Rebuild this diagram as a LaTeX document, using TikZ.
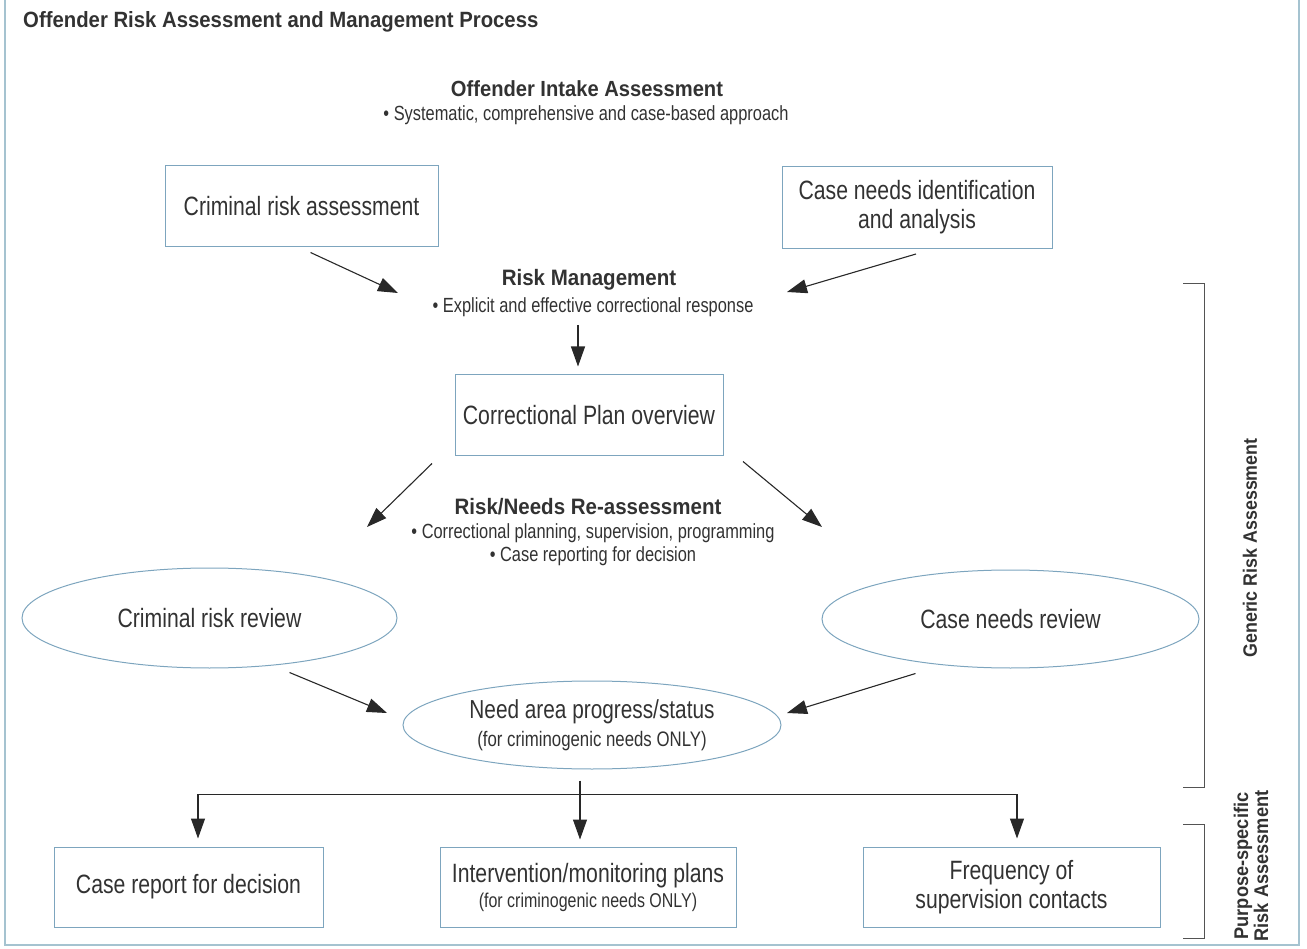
\documentclass[tikz,border=0pt]{standalone}
\usepackage{fontspec}
\setmainfont[FakeStretch=0.8]{Liberation Sans}
\newfontfamily\bcond[FakeStretch=0.92]{Liberation Sans}
\usetikzlibrary{arrows.meta,shapes.geometric,calc}
\definecolor{boxc}{RGB}{125,165,190}
\definecolor{framec}{RGB}{165,195,208}
\definecolor{txt}{RGB}{50,50,50}
\definecolor{linec}{RGB}{40,40,40}
\begin{document}
\begin{tikzpicture}[x=1pt,y=-1pt,
  box/.style={draw=boxc,line width=1pt,inner sep=0pt,align=center,text=txt,font=\fontsize{26.5}{29}\selectfont},
  ell/.style={ellipse,draw=boxc,line width=1pt,inner sep=0pt,align=center,text=txt,font=\fontsize{26.5}{29}\selectfont},
  head/.style={inner sep=0pt,text=txt,font=\bcond\bfseries\fontsize{22.3}{26}\selectfont},
  sub/.style={inner sep=0pt,text=txt,font=\fontsize{20.5}{23}\selectfont},
  arr/.style={draw=linec,line width=1.1pt,-{Triangle[length=20pt,width=14pt]}},
  ln/.style={draw=linec,line width=1pt},
  brk/.style={draw=linec!80,line width=1pt},
  side/.style={inner sep=0pt,text=txt,rotate=90,align=center}]
\useasboundingbox (0,0) rectangle (1307,949);
% frame
\draw[framec,line width=2pt] (4.5,0) -- (4.5,945) -- (1299,945) -- (1299,0);
% title
\node[head,anchor=west,font=\bcond\bfseries\fontsize{22.1}{26}\selectfont] (title) at (23,22) {Offender Risk Assessment and Management Process};
% intake
\node[head,font=\bcond\bfseries\fontsize{21.9}{26}\selectfont] (intake) at (587,89) {Offender Intake Assessment};
\node[sub] (intakesub) at (586,115) {• Systematic, comprehensive and case-based approach};
\node[box,minimum width=273,minimum height=81] (cra) at (301.5,206.5) {Criminal risk assessment};
\node[box,minimum width=270,minimum height=82] (cni) at (917,207.5) {Case needs identification\\and analysis};
% risk management
\node[head] (rm) at (589,280) {Risk Management};
\node[sub] (rmsub) at (593,307) {• Explicit and effective correctional response};
\coordinate (rmL) at (398,293);
\coordinate (rmR) at (787,292);
\draw[arr] ($(cra.south)+(9,5)$) -- (rmL);
\draw[arr] ($(cni.south)+(-1,5)$) -- (rmR);
\node[box,minimum width=268,minimum height=81] (cpo) at (589,415.5) {Correctional Plan overview};
\draw[arr] ($(rmsub.south)+(-15,8)$) -- ($(cpo.north)+(-11,-8)$);
% re-assessment
\node[head] (rn) at (588,507) {Risk/Needs Re-assessment};
\node[sub] (rnsub1) at (593,533) {• Correctional planning, supervision, programming};
\node[sub] (rnsub2) at (593,556) {• Case reporting for decision};
\coordinate (rnL) at (367,527);
\coordinate (rnR) at (822,527);
\draw[arr] ($(cpo.south)+(-157,7)$) -- (rnL);
\draw[arr] ($(cpo.south)+(154,5)$) -- (rnR);
% ellipses
\node[ell,minimum width=375,minimum height=100] (crr) at (209.5,618) {Criminal risk review};
\node[ell,minimum width=377,minimum height=98] (cnr) at (1010.5,619) {Case needs review};
\node[ell,minimum width=378,minimum height=88,font=\fontsize{26}{28}\selectfont] (nap) at (592,725) {Need area progress/status\\{\fontsize{21}{22}\selectfont (for criminogenic needs ONLY)}};
\coordinate (napL) at (387,713);
\coordinate (napR) at (787,713);
\draw[arr] ($(crr.south)+(80,4)$) -- (napL);
\draw[arr] ($(cnr.south)+(-95,5)$) -- (napR);
% distribution
\node[box,minimum width=269,minimum height=80] (crd) at (188.5,887) {Case report for decision};
\node[box,minimum width=296,minimum height=80,font=\fontsize{26.5}{25}\selectfont] (imp) at (588,887) {Intervention/monitoring plans\\{\fontsize{20}{22}\selectfont (for criminogenic needs ONLY)}};
\node[box,minimum width=297,minimum height=80] (fsc) at (1011.5,887) {Frequency of\\supervision contacts};
\coordinate (split) at (580,794);
\coordinate (splitL) at (198,794);
\coordinate (splitR) at (1017,794);
\draw[ln] (splitL) -- (splitR);
\draw[arr] ($(nap.south)+(-12,11)$) -- (split) -- ($(imp.north)+(-8,-7)$);
\draw[arr] (splitL) -- ($(crd.north)+(9.5,-8)$);
\draw[arr] (splitR) -- ($(fsc.north)+(5.5,-8)$);
% brackets
\draw[brk] (1183,284) -- (1204,284) -- (1204,787) -- (1183,787);
\draw[brk] (1183,824) -- (1204,824) -- (1204,938) -- (1183,938);
\node[side,font=\bcond\bfseries\fontsize{19.4}{22}\selectfont] (gra) at (1250,548) {Generic Risk Assessment};
\node[side,font=\bcond\bfseries\fontsize{19.8}{20}\selectfont] (pra) at (1251,866) {Purpose-specific\\Risk Assessment};
\end{tikzpicture}
\end{document}
